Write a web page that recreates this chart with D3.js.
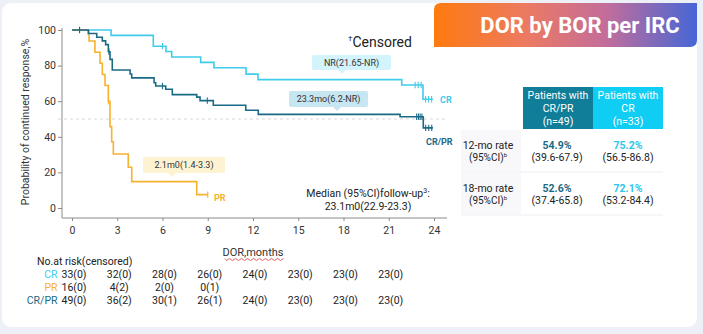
<!DOCTYPE html>
<html><head><meta charset="utf-8">
<script src="https://cdn.jsdelivr.net/npm/d3@7"></script>
<style>
html,body{margin:0;padding:0;background:#eef0f7;}
svg{display:block;font-family:Roboto,"Noto Sans",sans-serif;}
</style></head><body>
<svg id="c" width="703" height="334"></svg>
<script>
// ---------- data ----------
const monthTicks = [0,3,6,9,12,15,18,21,24];
const pctTicks = [0,20,40,60,80,100];

const crTimes = [0,2.59,5.39,6.23,6.61,8.53,9.41,11.54,12.33,21.86,23.27,23.93];
const crSurv  = [100,97.0,90.9,87.9,84.8,81.8,78.8,75.2,72.1,69.1,61.1,61.1];
const crCensor = [0.5,6.0,22.75,22.95,23.15,23.44,23.64,23.84];

const crprTimes = [0,1.08,1.64,2.01,2.23,2.41,2.52,2.67,3.85,3.96,5.44,5.55,6.21,6.65,8.27,8.49,9.37,11.52,12.35,21.75,23.29,23.93];
const crprSurv  = [100,98.0,95.9,93.9,91.8,87.8,83.5,77.5,75.3,73.1,70.4,68.5,66.7,63.7,62.3,60.3,57.7,54.9,52.6,51.3,45.0,45.0];
const crprCensor = [0.5,2.45,6.0,8.97,22.85,22.97,23.08,23.2,23.45,23.65,23.85];

const prTimes = [0,1.13,1.52,1.86,2.01,2.19,2.41,2.52,2.63,2.74,3.73,3.96,8.27,9.0];
const prSurv  = [100,93.8,87.5,81.3,75.0,68.8,60.0,45.7,37.2,30.3,22.9,14.8,7.5,7.5];
const prCensor = [2.42,9.0];

const riskTimes = [0,3,6,9,12,15,18,21];
const riskCR   = ["33(0)","32(0)","28(0)","26(0)","24(0)","23(0)","23(0)","23(0)"];
const riskPR   = ["16(0)","4(2)","2(0)","0(1)"];
const riskCRPR = ["49(0)","36(2)","30(1)","26(1)","24(0)","23(0)","23(0)","23(0)"];

const tableHeadCRPR = ["Patients with","CR/PR","(n=49)"];
const tableHeadCR   = ["Patients with","CR","(n=33)"];
const rateLabels = ["12-mo rate","18-mo rate"];
const rateCRPR = ["54.9%","52.6%"];
const ciCRPR   = ["(39.6-67.9)","(37.4-65.8)"];
const rateCR   = ["75.2%","72.1%"];
const ciCR     = ["(56.5-86.8)","(53.2-84.4)"];

// ---------- colours ----------
const C_CR = "#3fcbec", C_CRPR = "#1b6a85", C_PR = "#f6b12e";

const svg = d3.select("#c");
// card
svg.append("rect").attr("x",2).attr("y",3).attr("width",695).attr("height",324)
  .attr("rx",9).attr("fill","#ffffff");

// title banner
const defs = svg.append("defs");
const g = defs.append("linearGradient").attr("id","tg").attr("x1","0%").attr("x2","100%");
g.append("stop").attr("offset","0%").attr("stop-color","#ff7a0e");
g.append("stop").attr("offset","35%").attr("stop-color","#ec7a62");
g.append("stop").attr("offset","65%").attr("stop-color","#c46d9a");
g.append("stop").attr("offset","100%").attr("stop-color","#4567d6");
{
  const x0=434,x1=697,y0=3,y1=47,r=7;
  svg.append("path").attr("fill","url(#tg)")
    .attr("d",`M${x0},${y0+r} Q${x0},${y0} ${x0+r},${y0} L${x1},${y0} L${x1},${y1-r} Q${x1},${y1} ${x1-r},${y1} L${x0},${y1} Z`);
  svg.append("text").attr("x",580).attr("y",33).attr("text-anchor","middle")
    .attr("fill","#fff").attr("font-weight","bold").attr("font-size",22)
    .text("DOR by BOR per IRC");
}

// ---------- scales ----------
const x = d3.scaleLinear().domain([0,24]).range([72,434]);
const y = d3.scaleLinear().domain([0,100]).range([208,30]);

// axes
const axL = svg.append("g").attr("transform","translate(62,0)")
  .call(d3.axisLeft(y).tickValues(pctTicks).tickSize(4).tickPadding(2));
axL.select(".domain").remove();
axL.selectAll(".tick line").attr("stroke","#8a8a8a");
axL.selectAll("text").attr("font-size",10.5).attr("fill","#333").attr("font-family","Roboto");
svg.append("line").attr("x1",62).attr("x2",62).attr("y1",28).attr("y2",218).attr("stroke","#8a8a8a");

const axB = svg.append("g").attr("transform","translate(0,218)")
  .call(d3.axisBottom(x).tickValues(monthTicks).tickSize(3).tickPadding(6));
axB.select(".domain").remove();
axB.selectAll(".tick line").attr("stroke","#8a8a8a");
axB.selectAll("text").attr("font-size",10.5).attr("fill","#333").attr("font-family","Roboto");
svg.append("line").attr("x1",62).attr("x2",447).attr("y1",218).attr("y2",218).attr("stroke","#8a8a8a");

// 50% reference
svg.append("line").attr("x1",58).attr("x2",446).attr("y1",y(50)).attr("y2",y(50))
  .attr("stroke","#cfcfcf").attr("stroke-dasharray","3,3").attr("stroke-width",0.8);

// axis titles
svg.append("text").attr("transform","translate(29,122) rotate(-90)").attr("text-anchor","middle")
  .attr("font-size",10.5).attr("fill","#333").text("Probability of continued response,%");
svg.append("text").attr("x",x(12)).attr("y",256).attr("text-anchor","middle")
  .attr("font-size",11).attr("fill","#333").text("DOR,months");
{
  let d="M225,258.5";
  for(let i=0;i<20;i++){ d+=` L${226.5+i*3},${i%2?258.5:260.5}`; }
  svg.append("path").attr("d",d).attr("fill","none").attr("stroke","#e03a3a").attr("stroke-width",0.8);
}

// ---------- curves ----------
const line = d3.line().curve(d3.curveStepAfter).x(d=>x(d[0])).y(d=>y(d[1]));
function survAt(times,surv,t){ let v=surv[0]; for(let i=0;i<times.length;i++){ if(times[i]<=t) v=surv[i]; } return v; }
function drawCurve(times,surv,cens,color){
  svg.append("path").datum(times.map((t,i)=>[t,surv[i]])).attr("d",line)
    .attr("fill","none").attr("stroke",color).attr("stroke-width",1.6);
  svg.append("g").selectAll("line").data(cens).join("line")
    .attr("x1",d=>x(d)).attr("x2",d=>x(d))
    .attr("y1",d=>y(survAt(times,surv,d))-3.2).attr("y2",d=>y(survAt(times,surv,d))+3.2)
    .attr("stroke",color).attr("stroke-width",1.1);
}
drawCurve(crTimes,crSurv,crCensor,C_CR);
drawCurve(prTimes,prSurv,prCensor,C_PR);
drawCurve(crprTimes,crprSurv,crprCensor,C_CRPR);

// curve labels
svg.append("text").attr("x",440).attr("y",103).attr("fill",C_CR).attr("font-size",9)
  .attr("font-weight","bold").text("CR");
svg.append("text").attr("x",426).attr("y",145).attr("fill",C_CRPR).attr("font-size",9)
  .attr("font-weight","bold").text("CR/PR");
svg.append("text").attr("x",214).attr("y",201).attr("fill",C_PR).attr("font-size",9)
  .attr("font-weight","bold").text("PR");

// annotation boxes
function note(bx,by,bw,bh,px,fill,txt){
  svg.append("rect").attr("x",bx).attr("y",by).attr("width",bw).attr("height",bh).attr("rx",2).attr("fill",fill);
  svg.append("path").attr("d",`M${px-4},${by+bh} L${px},${by+bh+4} L${px+4},${by+bh} Z`).attr("fill",fill);
  svg.append("text").attr("x",bx+bw/2).attr("y",by+bh/2+3).attr("text-anchor","middle")
    .attr("font-size",9).attr("fill","#333").text(txt);
}
note(312,55,79,15,342,"#d3f4fc","NR(21.65-NR)");
note(289,91,79,16,337,"#c6e6f1","23.3mo(6.2-NR)");
note(143,157,82,16,172,"#fdf3d2","2.1m0(1.4-3.3)");

// censored legend
svg.append("text").attr("x",348).attr("y",47).attr("font-size",14).attr("fill","#222")
  .html('<tspan font-size="8" dy="-6">†</tspan><tspan dy="6">Censored</tspan>');

// median follow-up
svg.append("text").attr("x",368).attr("y",197).attr("text-anchor","middle").attr("font-size",10.5).attr("fill","#222")
  .html('Median (95%CI)follow-up<tspan font-size="7" dy="-4">3</tspan><tspan dy="4">:</tspan>');
svg.append("text").attr("x",368).attr("y",210).attr("text-anchor","middle").attr("font-size",10.5).attr("fill","#222")
  .text("23.1m0(22.9-23.3)");

// ---------- risk table ----------
svg.append("text").attr("x",37).attr("y",265).attr("font-size",10.5).attr("fill","#222").text("No.at risk(censored)");
const riskRows = [["CR",riskCR,C_CR,278],["PR",riskPR,C_PR,291],["CR/PR",riskCRPR,C_CRPR,304]];
riskRows.forEach(([lab,vals,col,yy])=>{
  svg.append("text").attr("x",57.5).attr("y",yy).attr("text-anchor","end").attr("font-size",10.5)
    .attr("fill",col).text(lab);
  svg.append("g").selectAll("text").data(vals).join("text")
    .attr("x",(d,i)=>x(riskTimes[i])+2).attr("y",yy).attr("text-anchor","middle")
    .attr("font-size",10.5).attr("fill","#222").text(d=>d);
});

// ---------- rates table ----------
const colX = [523,593], colW = 70;
const headFill = ["#107d99","#10cdf3"];
[tableHeadCRPR,tableHeadCR].forEach((lines,j)=>{
  svg.append("rect").attr("x",colX[j]).attr("y",87).attr("width",colW).attr("height",42).attr("fill",headFill[j]);
  svg.append("g").selectAll("text").data(lines).join("text")
    .attr("x",colX[j]+colW/2).attr("y",(d,i)=>99+i*13).attr("text-anchor","middle")
    .attr("font-size",10.5).attr("fill","#fff").text(d=>d);
});
const rowTop=[130,173];
rateLabels.forEach((lab,i)=>{
  const t=rowTop[i];
  svg.append("rect").attr("x",461).attr("y",t).attr("width",60).attr("height",41).attr("fill","#f8f8fb");
  svg.append("line").attr("x1",461).attr("x2",663).attr("y1",t+42).attr("y2",t+42).attr("stroke","#eeeef2");
  svg.append("text").attr("x",488).attr("y",t+19).attr("text-anchor","middle").attr("font-size",10.5).attr("fill","#222").text(lab);
  svg.append("text").attr("x",488).attr("y",t+31).attr("text-anchor","middle").attr("font-size",10).attr("fill","#222")
    .html('(95%CI)<tspan font-size="6" dy="-4">b</tspan>');
  svg.append("text").attr("x",colX[0]+colW/2-1).attr("y",t+19).attr("text-anchor","middle").attr("font-size",10.5)
    .attr("font-weight","bold").attr("fill",C_CRPR).text(rateCRPR[i]);
  svg.append("text").attr("x",colX[0]+colW/2-1).attr("y",t+31).attr("text-anchor","middle").attr("font-size",10.5)
    .attr("fill","#222").text(ciCRPR[i]);
  svg.append("text").attr("x",colX[1]+colW/2).attr("y",t+19).attr("text-anchor","middle").attr("font-size",10.5)
    .attr("font-weight","bold").attr("fill","#2ec6ea").text(rateCR[i]);
  svg.append("text").attr("x",colX[1]+colW/2).attr("y",t+31).attr("text-anchor","middle").attr("font-size",10.5)
    .attr("fill","#222").text(ciCR[i]);
});
</script>
</body></html>
